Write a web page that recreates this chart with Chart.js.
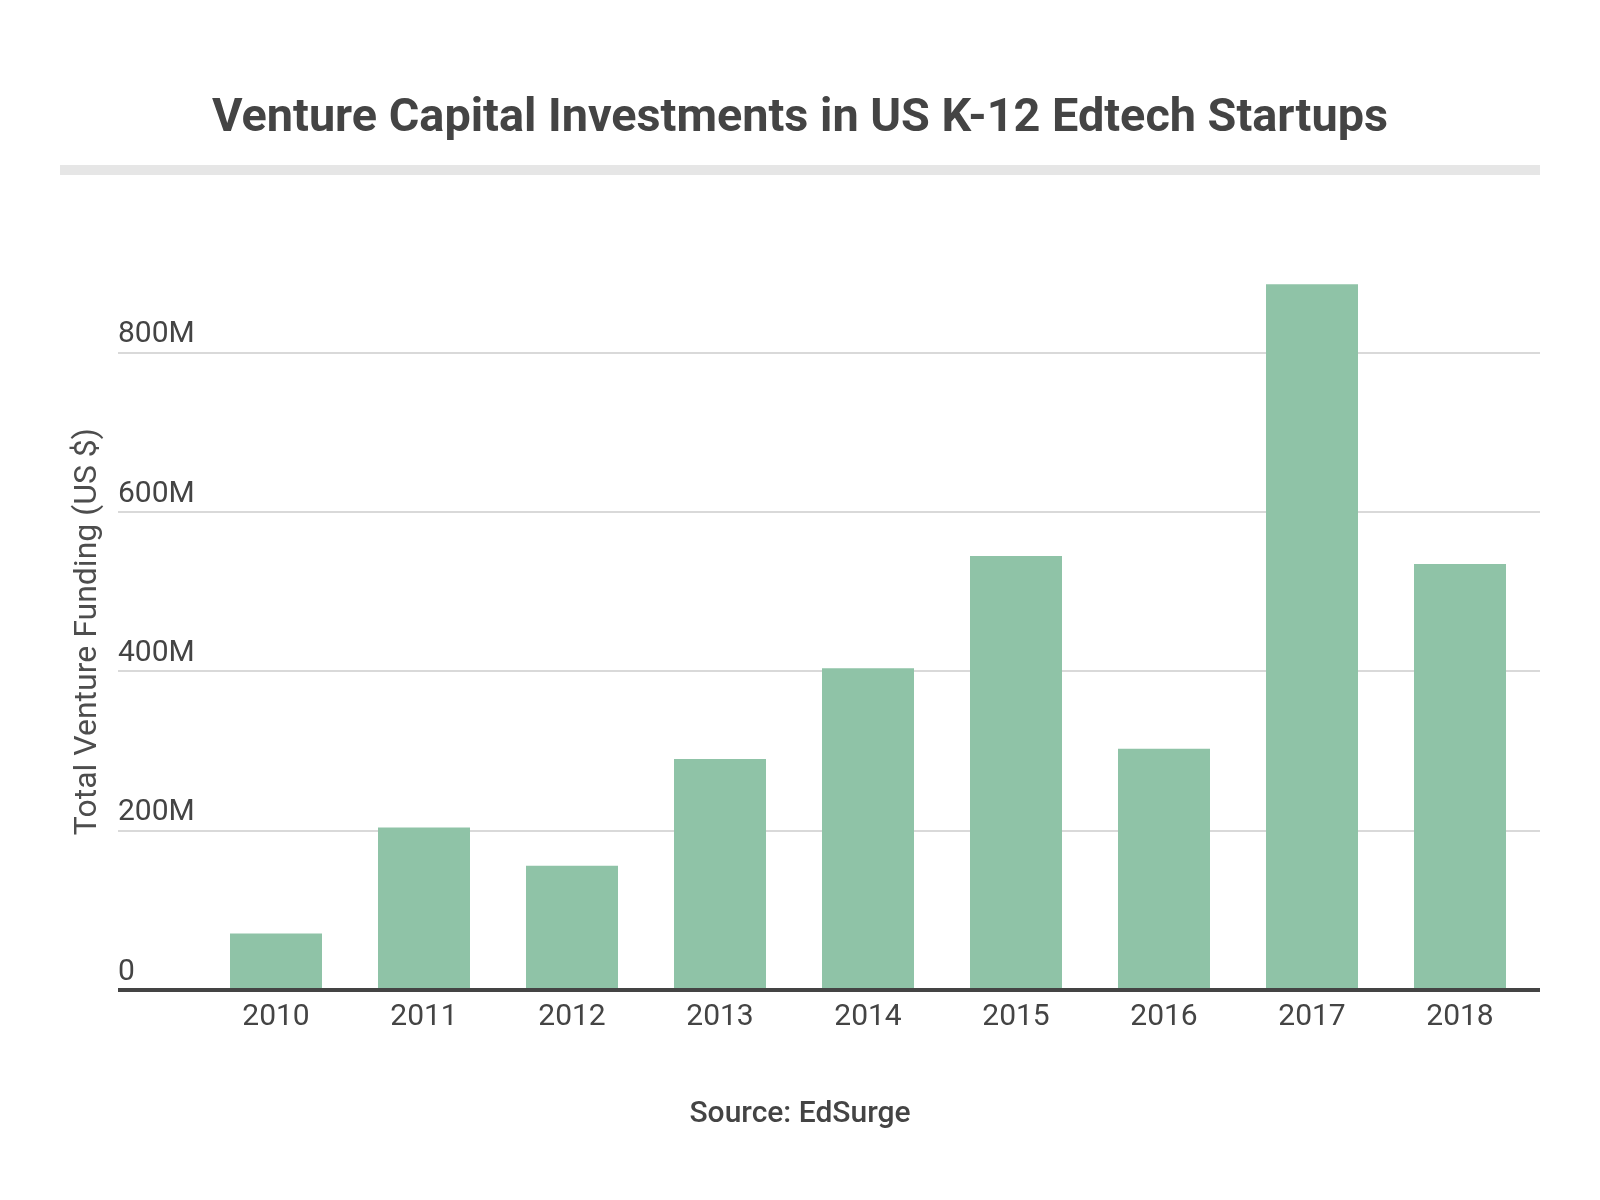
<!DOCTYPE html>
<html>
<head>
<meta charset="utf-8">
<script src="https://cdn.jsdelivr.net/npm/chart.js@4.4.0/dist/chart.umd.min.js"></script>
<style>
  body { margin: 0; background: #fff; }
  canvas { display: block; }
</style>
</head>
<body>
<canvas id="chart" width="1600" height="1200"></canvas>
<script>
// data
const years = ["2010", "2011", "2012", "2013", "2014", "2015", "2016", "2017", "2018"];
const funding = [71, 204, 156, 290, 404, 545, 303, 886, 535]; // millions of US $
const yTicks = [0, 200, 400, 600, 800];

const textColor = "#444444";
const gridColor = "#d9d9d9";

function gridLineColor(c) {
  return c.tick && c.tick.value === 0 ? textColor : gridColor;
}
function gridLineWidth(c) {
  return c.tick && c.tick.value === 0 ? 4 : 2;
}
function keepTicks(scale) {
  scale.ticks = yTicks.map(v => ({ value: v }));
}

// grey rule under the title
const titleRule = {
  id: "titleRule",
  beforeDraw(chart) {
    const ctx = chart.ctx;
    ctx.save();
    ctx.fillStyle = "#e6e6e6";
    ctx.fillRect(60, 165, 1480, 10);
    ctx.restore();
  }
};

const ctx = document.getElementById("chart").getContext("2d");

new Chart(ctx, {
  type: "bar",
  data: {
    labels: years,
    datasets: [{
      label: "Total Venture Funding",
      data: funding,
      backgroundColor: "#8fc3a7",
      barPercentage: 0.6216,
      categoryPercentage: 1.0
    }]
  },
  options: {
    responsive: false,
    animation: false,
    layout: { padding: { left: 60, right: 60, top: 0, bottom: 0 } },
    plugins: {
      legend: { display: false },
      tooltip: { enabled: false },
      title: {
        display: true,
        text: "Venture Capital Investments in US K-12 Edtech Startups",
        color: textColor,
        font: { family: "Roboto", size: 46.8, weight: "bold" },
        padding: { top: 91, bottom: 126 }
      },
      subtitle: {
        display: true,
        position: "bottom",
        text: "Source: EdSurge",
        color: textColor,
        font: { family: "Roboto", size: 30, weight: "500" },
        padding: { top: 52, bottom: 68 }
      }
    },
    scales: {
      x: {
        grid: { display: false, drawTicks: false },
        border: { display: false },
        ticks: {
          color: textColor,
          font: { family: "Roboto", size: 30 },
          padding: 9
        }
      },
      y: {
        min: 0,
        max: 900,
        afterBuildTicks: keepTicks,
        afterFit(scale) { scale.width = 142; },
        border: { display: false },
        grid: {
          color: gridLineColor,
          lineWidth: gridLineWidth,
          tickLength: 84
        },
        ticks: {
          mirror: true,
          crossAlign: "near",
          padding: -84,
          labelOffset: -18,
          color: textColor,
          font: { family: "Roboto", size: 30 },
          callback: v => v === 0 ? "0" : v + "M"
        },
        title: {
          display: true,
          text: "Total Venture Funding (US $)",
          color: "#4d4d4d",
          font: { family: "Roboto", size: 32 },
          padding: { top: 9, bottom: 0 }
        }
      },
      yRight: {
        position: "right",
        min: 0,
        max: 900,
        afterBuildTicks: keepTicks,
        afterFit(scale) { scale.width = 6; },
        border: { display: false },
        grid: {
          drawOnChartArea: false,
          color: gridLineColor,
          lineWidth: gridLineWidth,
          tickLength: 6
        },
        ticks: { display: false }
      }
    }
  },
  plugins: [titleRule]
});
</script>
</body>
</html>
